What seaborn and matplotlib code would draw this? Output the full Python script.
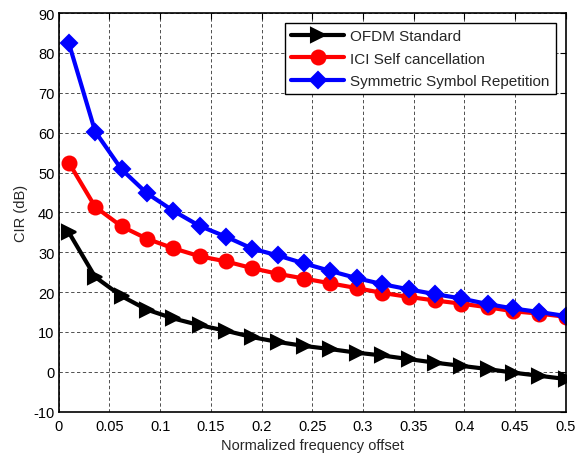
import pandas as pd
import numpy as np
import matplotlib.pyplot as plt
import seaborn as sns

# normalized frequency offset (x) for every curve
freq_offset = [0.010, 0.036, 0.062, 0.087, 0.113, 0.139, 0.165, 0.191, 0.216, 0.242,
               0.268, 0.294, 0.319, 0.345, 0.371, 0.397, 0.423, 0.448, 0.474, 0.500]

cir_ofdm = [35.0, 23.8, 19.0, 15.6, 13.4, 11.7, 10.3, 8.7, 7.5, 6.5,
            5.7, 4.8, 4.1, 3.2, 2.3, 1.5, 0.7, -0.2, -1.0, -1.8]
cir_ici = [52.5, 41.4, 36.5, 33.4, 31.0, 29.0, 27.7, 26.0, 24.6, 23.4,
           22.2, 21.0, 19.8, 18.8, 17.9, 17.1, 16.2, 15.2, 14.6, 13.8]
cir_ssr = [82.5, 60.3, 50.8, 44.8, 40.4, 36.6, 33.9, 30.9, 29.2, 27.2,
           25.3, 23.5, 22.0, 20.7, 19.5, 18.4, 17.0, 15.9, 15.0, 14.0]

labels = ['OFDM Standard', 'ICI Self cancellation', 'Symmetric Symbol Repetition']
colors = ['black', 'red', 'blue']
markers = ['>', 'o', 'D']

sns.set_style('white')
plt.rcParams['font.family'] = ['Liberation Sans', 'DejaVu Sans']
plt.rcParams['font.size'] = 10.5
plt.rcParams['axes.unicode_minus'] = False

fig = plt.figure(figsize=(5.75, 4.56), dpi=100)
ax = fig.add_axes([0.102, 0.095, 0.882, 0.874])

for y, lab, c, m in zip([cir_ofdm, cir_ici, cir_ssr], labels, colors, markers):
    sns.lineplot(x=freq_offset, y=y, ax=ax, color=c, marker=m, label=lab,
                 linewidth=3, markersize=10 if m != 'D' else 8.5,
                 markeredgecolor=c, markeredgewidth=1.5)

ax.set_xlim(0, 0.5)
ax.set_ylim(-10, 90)
ax.set_xticks([0, 0.05, 0.1, 0.15, 0.2, 0.25, 0.3, 0.35, 0.4, 0.45, 0.5])
ax.set_xticklabels(['0', '0.05', '0.1', '0.15', '0.2', '0.25', '0.3', '0.35', '0.4', '0.45', '0.5'])
ax.set_yticks(range(-10, 91, 10))
ax.set_xlabel('Normalized frequency offset', fontsize=10.5, labelpad=4)
ax.set_ylabel('CIR (dB)', fontsize=10.5, labelpad=4)

ax.grid(True, color='black', linestyle=(0, (4, 3)), linewidth=0.6, alpha=0.8)
ax.tick_params(direction='in', top=True, right=True, length=4, width=0.8,
               labelsize=10.5, colors='black', pad=3)
ax.tick_params(axis='x', pad=5)
for s in ax.spines.values():
    s.set_color('black')
    s.set_linewidth(1.2)

leg = ax.legend(loc='upper right', fontsize=11, fancybox=False, framealpha=1,
                edgecolor='black', handlelength=3.5, borderaxespad=0.65,
                labelspacing=0.55, handletextpad=0.4, borderpad=0.4)
leg.get_frame().set_linewidth(1.0)

fig.savefig('out.png', dpi=100)
